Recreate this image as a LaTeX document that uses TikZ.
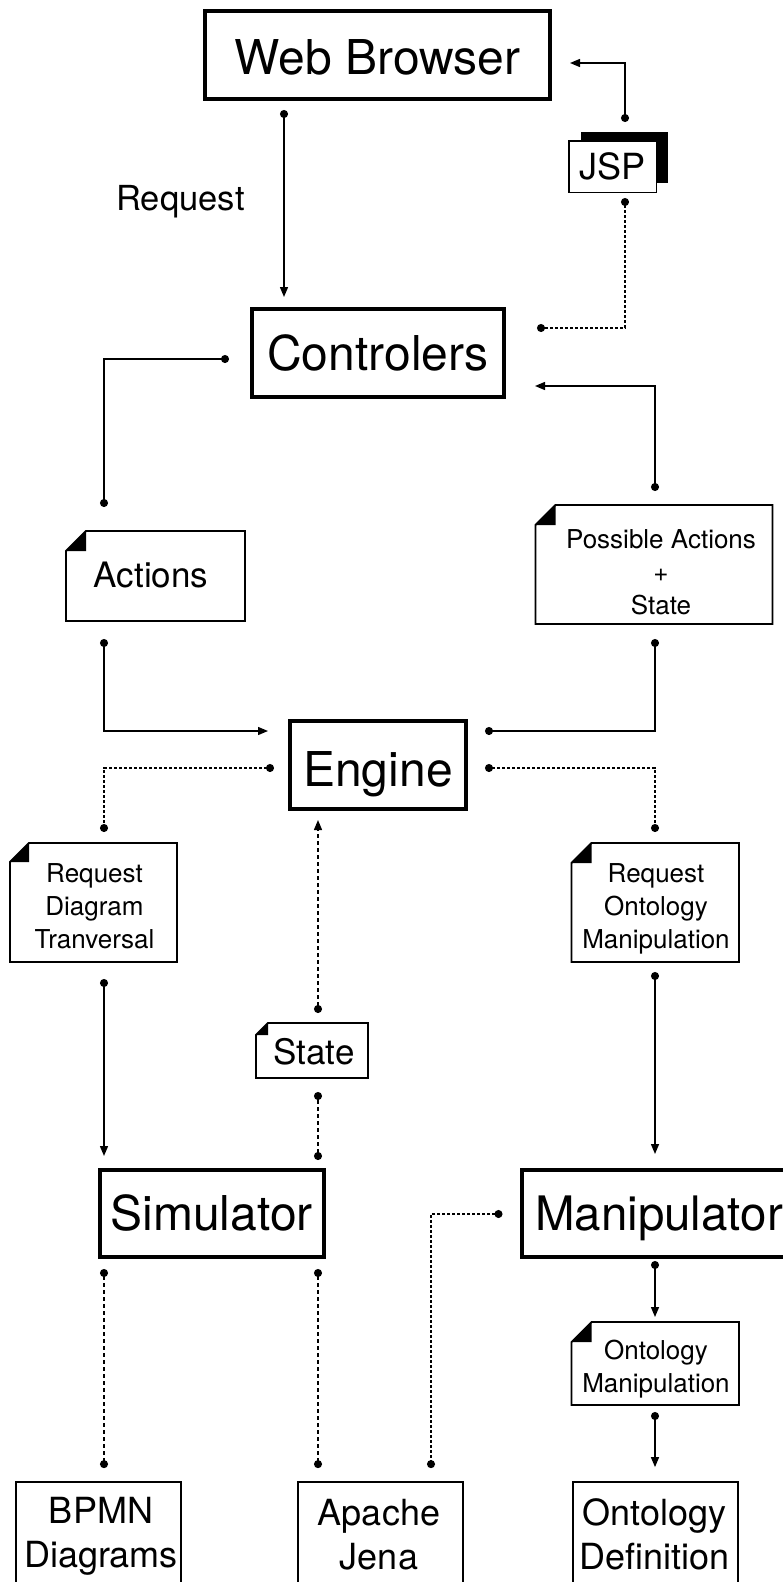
\documentclass[tikz,border=0pt]{standalone}
\usepackage{fontspec}
\setmainfont{TeX Gyre Heros}
\usetikzlibrary{arrows.meta,calc,shadows}

% note frame with a folded (black) top-left corner; #1 = node name, #2 = corner size
\newcommand\drawnote[2]{%
  \fill ($(#1.north west)+(0,#2)$) -- ($(#1.north west)+(#2,0)$) -- ($(#1.north west)+(#2,#2)$) -- cycle;
  \draw[notepen] ($(#1.north west)+(0,#2)$) -- ($(#1.north west)+(#2,0)$) -- (#1.north east)
     -- (#1.south east) -- (#1.south west) -- cycle;}

\begin{document}
\begin{tikzpicture}[x=1pt,y=-1pt,
  bigbox/.style={draw, line width=4pt, inner sep=0pt, font=\fontsize{48}{56}\selectfont,
                 text height=34.5pt, text depth=0pt},
  thinbox/.style={draw, line width=1.8pt, inner sep=0pt},
  noteframe/.style={inner sep=0pt, outer sep=0pt},
  notepen/.style={line width=1.8pt, line join=miter},
  conn/.style={line width=1.4pt},
  dotline/.style={conn, dash pattern=on 3pt off 2pt},
  dashline/.style={conn, dash pattern=on 4pt off 3pt},
  dd/.style={arrows={Circle[length=8pt]-Circle[length=8pt]}},
  da/.style={arrows={Circle[length=8pt]-Triangle[length=10pt,width=8pt]}},
  onetext/.style={inner sep=0pt, text depth=0pt},
  multi/.style={inner sep=0pt, align=center, anchor=north, font=\fontsize{26}{33}\selectfont},
  lower/.style={inner sep=0pt, align=center, anchor=north, font=\fontsize{36}{44}\selectfont},
]
\useasboundingbox (0,0) rectangle (783,1582);
\fill[white] (0,0) rectangle (783,1582);
\clip (0,0) rectangle (783,1582);

% column lines shared by the connectors
\coordinate (cA) at (104,0);
\coordinate (cB) at (284,0);
\coordinate (cC) at (318,0);
\coordinate (cD) at (431,0);
\coordinate (cE) at (625,0);
\coordinate (cF) at (655,0);

% main components
\node[bigbox, minimum width=345pt, minimum height=88pt, text height=38.5pt] (wb) at (377.5,55) {Web Browser};
\node[bigbox, minimum width=252pt, minimum height=88pt] (ctrl) at (378,353) {Controlers};
\node[bigbox, minimum width=176pt, minimum height=88pt, text height=42.5pt] (eng) at (378,765) {Engine};
\node[bigbox, minimum width=224.5pt, minimum height=87pt] (sim) at (211.75,1213.5) {Simulator};
\node[bigbox, minimum width=274pt, minimum height=87pt, font=\fontsize{47.5}{56}\selectfont,
      text height=34.2pt] (man) at (659,1213.5) {Manipulator};

% JSP page with its black backing sheet
\node[thinbox, line width=1.5pt, fill=white, minimum width=87.5pt, minimum height=51.5pt,
      font=\fontsize{36}{40}\selectfont, text height=25.8pt, text depth=0pt,
      general shadow={fill=black, shadow xshift=12pt, shadow yshift=9pt}] (jsp) at (612.5,166.5) {JSP};

\node[onetext, font=\fontsize{34.5}{40}\selectfont, text height=24.8pt] (reqlbl) at (180.5,198.4) {Request};

% message notes
\node[noteframe, minimum width=179pt, minimum height=90pt] (act) at (155.5,576) {};
\drawnote{act}{20}
\node[onetext, font=\fontsize{35}{40}\selectfont, text height=25.1pt] (acttxt) at (151,574.5) {Actions};

\node[noteframe, minimum width=237pt, minimum height=119pt] (pos) at (654,564.5) {};
\drawnote{pos}{20}
\node[multi] (postxt) at (661,529) {Possible Actions\\+\\State};

\node[noteframe, minimum width=167pt, minimum height=119pt] (reqd) at (93.5,902.5) {};
\drawnote{reqd}{19}
\node[multi] (reqdtxt) at (94.5,863) {Request\\Diagram\\Tranversal};

\node[noteframe, minimum width=167.5pt, minimum height=119pt] (reqo) at (655.25,902.5) {};
\drawnote{reqo}{20}
\node[multi] (reqotxt) at (656,863) {Request\\Ontology\\Manipulation};

\node[noteframe, minimum width=112pt, minimum height=55pt] (state) at (312,1050.5) {};
\drawnote{state}{12}
\node[onetext, font=\fontsize{35}{40}\selectfont, text height=25.1pt] (statetxt) at (314,1052) {State};

\node[noteframe, minimum width=167.5pt, minimum height=83pt] (ontm) at (655.25,1363.5) {};
\drawnote{ontm}{20}
\node[multi] (ontmtxt) at (656,1340) {Ontology\\Manipulation};

% resources at the bottom
\node[thinbox, minimum width=165.2pt, minimum height=158pt] (bpmn) at (98.5,1561) {};
\node[lower] (bpmntxt) at (101,1497) {BPMN\\Diagrams};
\node[thinbox, minimum width=165.2pt, minimum height=158pt] (jena) at (380.5,1561) {};
\node[lower] (jenatxt) at (379,1499) {Apache\\Jena};
\node[thinbox, minimum width=165.2pt, minimum height=158pt] (ontd) at (655.5,1561) {};
\node[lower] (ontdtxt) at (654.5,1498) {Ontology\\Definition};

% connectors
\draw[conn,da] ($(wb.south -| cB)+(0,9)$) -- ($(ctrl.north -| cB)+(0,-10)$);
\draw[conn,da] ($(jsp.north -| cE)+(0,-18)$) |- ($(wb.east)+(18,8)$);
\draw[dotline,dd] ($(jsp.south -| cE)+(0,5)$) |- ($(ctrl.east)+(31,-25)$);
\draw[conn,dd] ($(ctrl.west)+(-21,6)$) -| ($(act.north -| cA)+(0,-24)$);
\draw[conn,da] ($(pos.north -| cF)+(0,-14)$) |- ($(ctrl.east)+(29,33)$);
\draw[conn,da] ($(act.south -| cA)+(0,18)$) |- ($(eng.west)+(-20,-34)$);
\draw[conn,dd] ($(pos.south -| cF)+(0,15)$) |- ($(eng.east)+(17,-34)$);
\draw[dotline,dd] ($(eng.west)+(-14,3)$) -| ($(reqd.north -| cA)+(0,-11)$);
\draw[dotline,dd] ($(eng.east)+(17,3)$) -| ($(reqo.north -| cF)+(0,-11)$);
\draw[conn,da] ($(reqd.south -| cA)+(0,17)$) -- ($(sim.north -| cA)+(0,-12)$);
\draw[conn,da] ($(reqo.south -| cF)+(0,10)$) -- ($(man.north -| cF)+(0,-14)$);
\draw[dashline,da] ($(state.north -| cC)+(0,-10)$) -- ($(eng.south -| cC)+(0,9)$);
\draw[dashline,dd] ($(sim.north -| cC)+(0,-8)$) -- ($(state.south -| cC)+(0,14)$);
\draw[dashline,dd] ($(sim.south -| cA)+(0,10)$) -- ($(bpmn.north -| cA)+(0,-13)$);
\draw[dashline,dd] ($(sim.south -| cC)+(0,10)$) -- ($(jena.north -| cC)+(0,-13)$);
\draw[dotline,dd] ($(man.west)+(-17.5,0.5)$) -| ($(jena.north -| cD)+(0,-13)$);
\draw[conn,da] ($(man.south -| cF)+(0,2)$) -- ($(ontm.north -| cF)+(0,-5)$);
\draw[conn,da] ($(ontm.south -| cF)+(0,7)$) -- ($(ontd.north -| cF)+(0,-14)$);
\end{tikzpicture}
\end{document}
